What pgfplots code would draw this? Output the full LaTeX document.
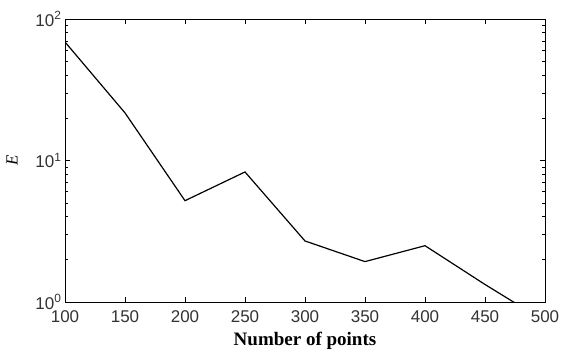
\documentclass[border=0pt]{standalone}
\usepackage{pgfplots}
\pgfplotsset{compat=1.18}
\usepackage{fontspec}
\setmainfont{Liberation Serif}
\newfontfamily\arial{Liberation Sans}
\begin{document}
\begin{tikzpicture}
\begin{axis}[
  scale only axis,
  width=480pt, height=283pt,
  xmin=100, xmax=500,
  ymode=log, ymin=1, ymax=100,
  xtick={100,150,...,500},
  ytick={1,10,100},
  yticklabels={10\textsuperscript{0},10\textsuperscript{1},10\textsuperscript{2}},
  tick align=inside,
  major tick length=5pt,
  minor tick length=3pt,
  tick style={black, line width=0.8pt},
  axis line style={black, line width=0.9pt},
  xticklabel style={font=\arial\fontsize{17}{17}\selectfont, text=black!80, yshift=-5pt},
  yticklabel style={font=\arial\fontsize{17}{17}\selectfont, text=black!80},
  /pgf/number format/assume math mode=true,
  xlabel={\textbf{Number of points}},
  ylabel={\textit{E}},
  xlabel style={font=\fontsize{19}{19}\selectfont, yshift=-3pt},
  ylabel style={font=\fontsize{17}{17}\selectfont, yshift=11pt},
  clip=true,
]
\addplot[black, line width=1.2pt] coordinates {
  (100,68.8) (150,21.7) (200,5.2) (250,8.3) (300,2.70) (350,1.93) (400,2.50) (450,1.33) (500,0.73)
};
\end{axis}
\pgfresetboundingbox
\path ([shift={(-65pt,-52pt)}]current axis.south west) rectangle ([shift={(16pt,19pt)}]current axis.north east);
\end{tikzpicture}
\end{document}
